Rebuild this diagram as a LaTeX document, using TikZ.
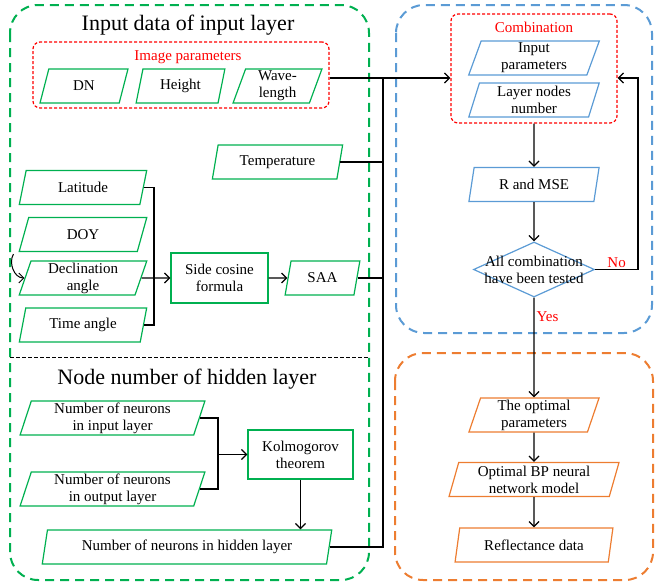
\documentclass[tikz,border=0pt]{standalone}
\usepackage{fontspec}
\setmainfont{Liberation Serif}
\usetikzlibrary{shapes.geometric,arrows.meta}
\definecolor{fgreen}{RGB}{0,176,80}
\definecolor{fblue}{RGB}{91,155,213}
\definecolor{forange}{RGB}{237,125,49}
\definecolor{fred}{RGB}{255,0,0}
\tikzset{
  txt/.style={font=\fontsize{15}{17}\selectfont, text=black},
  ttl/.style={font=\fontsize{22}{26}\selectfont, text=black},
  redlbl/.style={font=\fontsize{15}{17}\selectfont, text=fred},
  para/.style={txt, trapezium, trapezium left angle=76, trapezium right angle=104,
    trapezium stretches=true, draw, line width=1.2pt, inner sep=1pt, align=center, minimum height=34},
  gpara/.style={para, draw=fgreen},
  bpara/.style={para, draw=fblue},
  opara/.style={para, draw=forange},
  grect/.style={txt, rectangle, draw=fgreen, line width=1.2pt, align=center, inner sep=1pt},
  redbox/.style={rectangle, draw=fred, line width=1.2pt, dash pattern=on 3pt off 2pt, rounded corners=7pt},
  outer/.style={line width=2pt, dash pattern=on 9pt off 6pt, rounded corners=28pt},
  conn/.style={line width=1.3pt, draw=black},
  arr/.style={conn, -{Straight Barb[length=5pt,width=10pt]}},
}
\begin{document}
\begin{tikzpicture}[x=1pt,y=-1pt]
\useasboundingbox (0,0) rectangle (656,587);
% containers
\draw[outer, draw=fgreen] (10,5) rectangle (369,580);
\draw[outer, draw=fblue] (396,5) rectangle (652,333);
\draw[outer, draw=forange] (395,353) rectangle (653,580);
\draw[line width=1pt, dashed, dash pattern=on 4pt off 2pt] (10,357) -- (369,357);

% titles
\node[ttl] (t1) at (188,25) {Input data of input layer};
\node[ttl] (t2) at (187,379) {Node number of hidden layer};

% image parameters
\node[redbox, minimum width=296, minimum height=66] (imgbox) at (181,75) {};
\node[redlbl] (imglbl) at (188,57) {Image parameters};
\node[gpara, minimum width=88] (dn) at (84,86) {DN};
\node[gpara, minimum width=89] (hgt) at (180.5,86) {Height};
\node[gpara, minimum width=89] (wave) at (277.5,86) {Wave-\\length};

\node[gpara, minimum width=131] (temp) at (277.5,162) {Temperature};
\node[gpara, minimum width=128] (lat) at (83,187.5) {Latitude};
\node[gpara, minimum width=128] (doy) at (83,234.5) {DOY};
\node[gpara, minimum width=128] (decl) at (83,278) {Declination\\angle};
\node[gpara, minimum width=128] (tang) at (83,325) {Time angle};
\node[grect, minimum width=97, minimum height=50] (side) at (219.5,278) {Side cosine\\formula};
\node[gpara, minimum width=75] (saa) at (322.5,278) {SAA};

% hidden layer part
\node[gpara, minimum width=185] (nin) at (112.5,418) {Number of neurons\\in input layer};
\node[gpara, minimum width=185] (nout) at (112.5,489) {Number of neurons\\in output layer};
\node[grect, minimum width=105, minimum height=49] (kol) at (300.5,454.5) {Kolmogorov\\theorem};
\node[gpara, minimum width=290] (hidden) at (187,547) {Number of neurons in hidden layer};

% right column
\node[redbox, minimum width=166, minimum height=109] (combo) at (534,68.5) {};
\node[redlbl] (combolbl) at (534,27) {Combination};
\node[bpara, minimum width=131] (inpar) at (534,58) {Input\\parameters};
\node[bpara, minimum width=131] (lnn) at (534,100) {Layer nodes\\number};
\node[bpara, minimum width=131] (rmse) at (534,184.5) {R and MSE};
\node[diamond, draw=fblue, line width=1.2pt, minimum width=121, minimum height=55, inner sep=0pt] (dia) at (534,269.5) {};
\node[txt, align=center] (diatxt) at (dia.center) {All combination\\have been tested};
\node[opara, minimum width=131] (optp) at (534,415) {The optimal\\parameters};
\node[opara, minimum width=170] (optbp) at (534,479.5) {Optimal BP neural\\network model};
\node[opara, minimum width=158] (refl) at (534,545) {Reflectance data};

% connectors
\coordinate (busTop) at (383,78);
\draw[arr] (imgbox.east |- busTop) -- (combo.west |- busTop);
\draw[conn] (hidden.east) -| (busTop);
\draw[conn] (temp.east) -- (temp.east -| busTop);
\draw[conn] (saa.east) -- (saa.east -| busTop);

\coordinate (bx) at (154,0);
\draw[conn] (lat.east) -| (bx |- tang.east) -- (tang.east);
\draw[arr] (decl.east) -- (side.west);
\draw[arr] (side.east) -- (saa.west);
\draw[arr, line width=1pt] ([shift={(-5,2)}]doy.bottom left corner) to[out=-120, in=180] (decl.west);

\coordinate (kx) at (218,0);
\draw[conn] (nin.east) -| (kx |- nout.east) -- (nout.east);
\draw[arr] (kx |- kol.west) -- (kol.west);
\draw[arr] (kol.south) -- (kol.south |- hidden.north);

\draw[arr] (combo.south) -- (rmse.north);
\draw[arr] (rmse.south) -- (dia.north);
\draw[arr] (dia.east) -- node[redlbl, above, inner sep=1pt] (nolbl) {No} ++(43,0) |- (combo.east |- busTop);
\draw[arr] (dia.south) -- node[redlbl, right, pos=0.19, inner sep=2pt] (yeslbl) {Yes} (optp.north);
\draw[arr] (optp.south) -- (optbp.north);
\draw[arr] (optbp.south) -- (refl.north);
\end{tikzpicture}
\end{document}
